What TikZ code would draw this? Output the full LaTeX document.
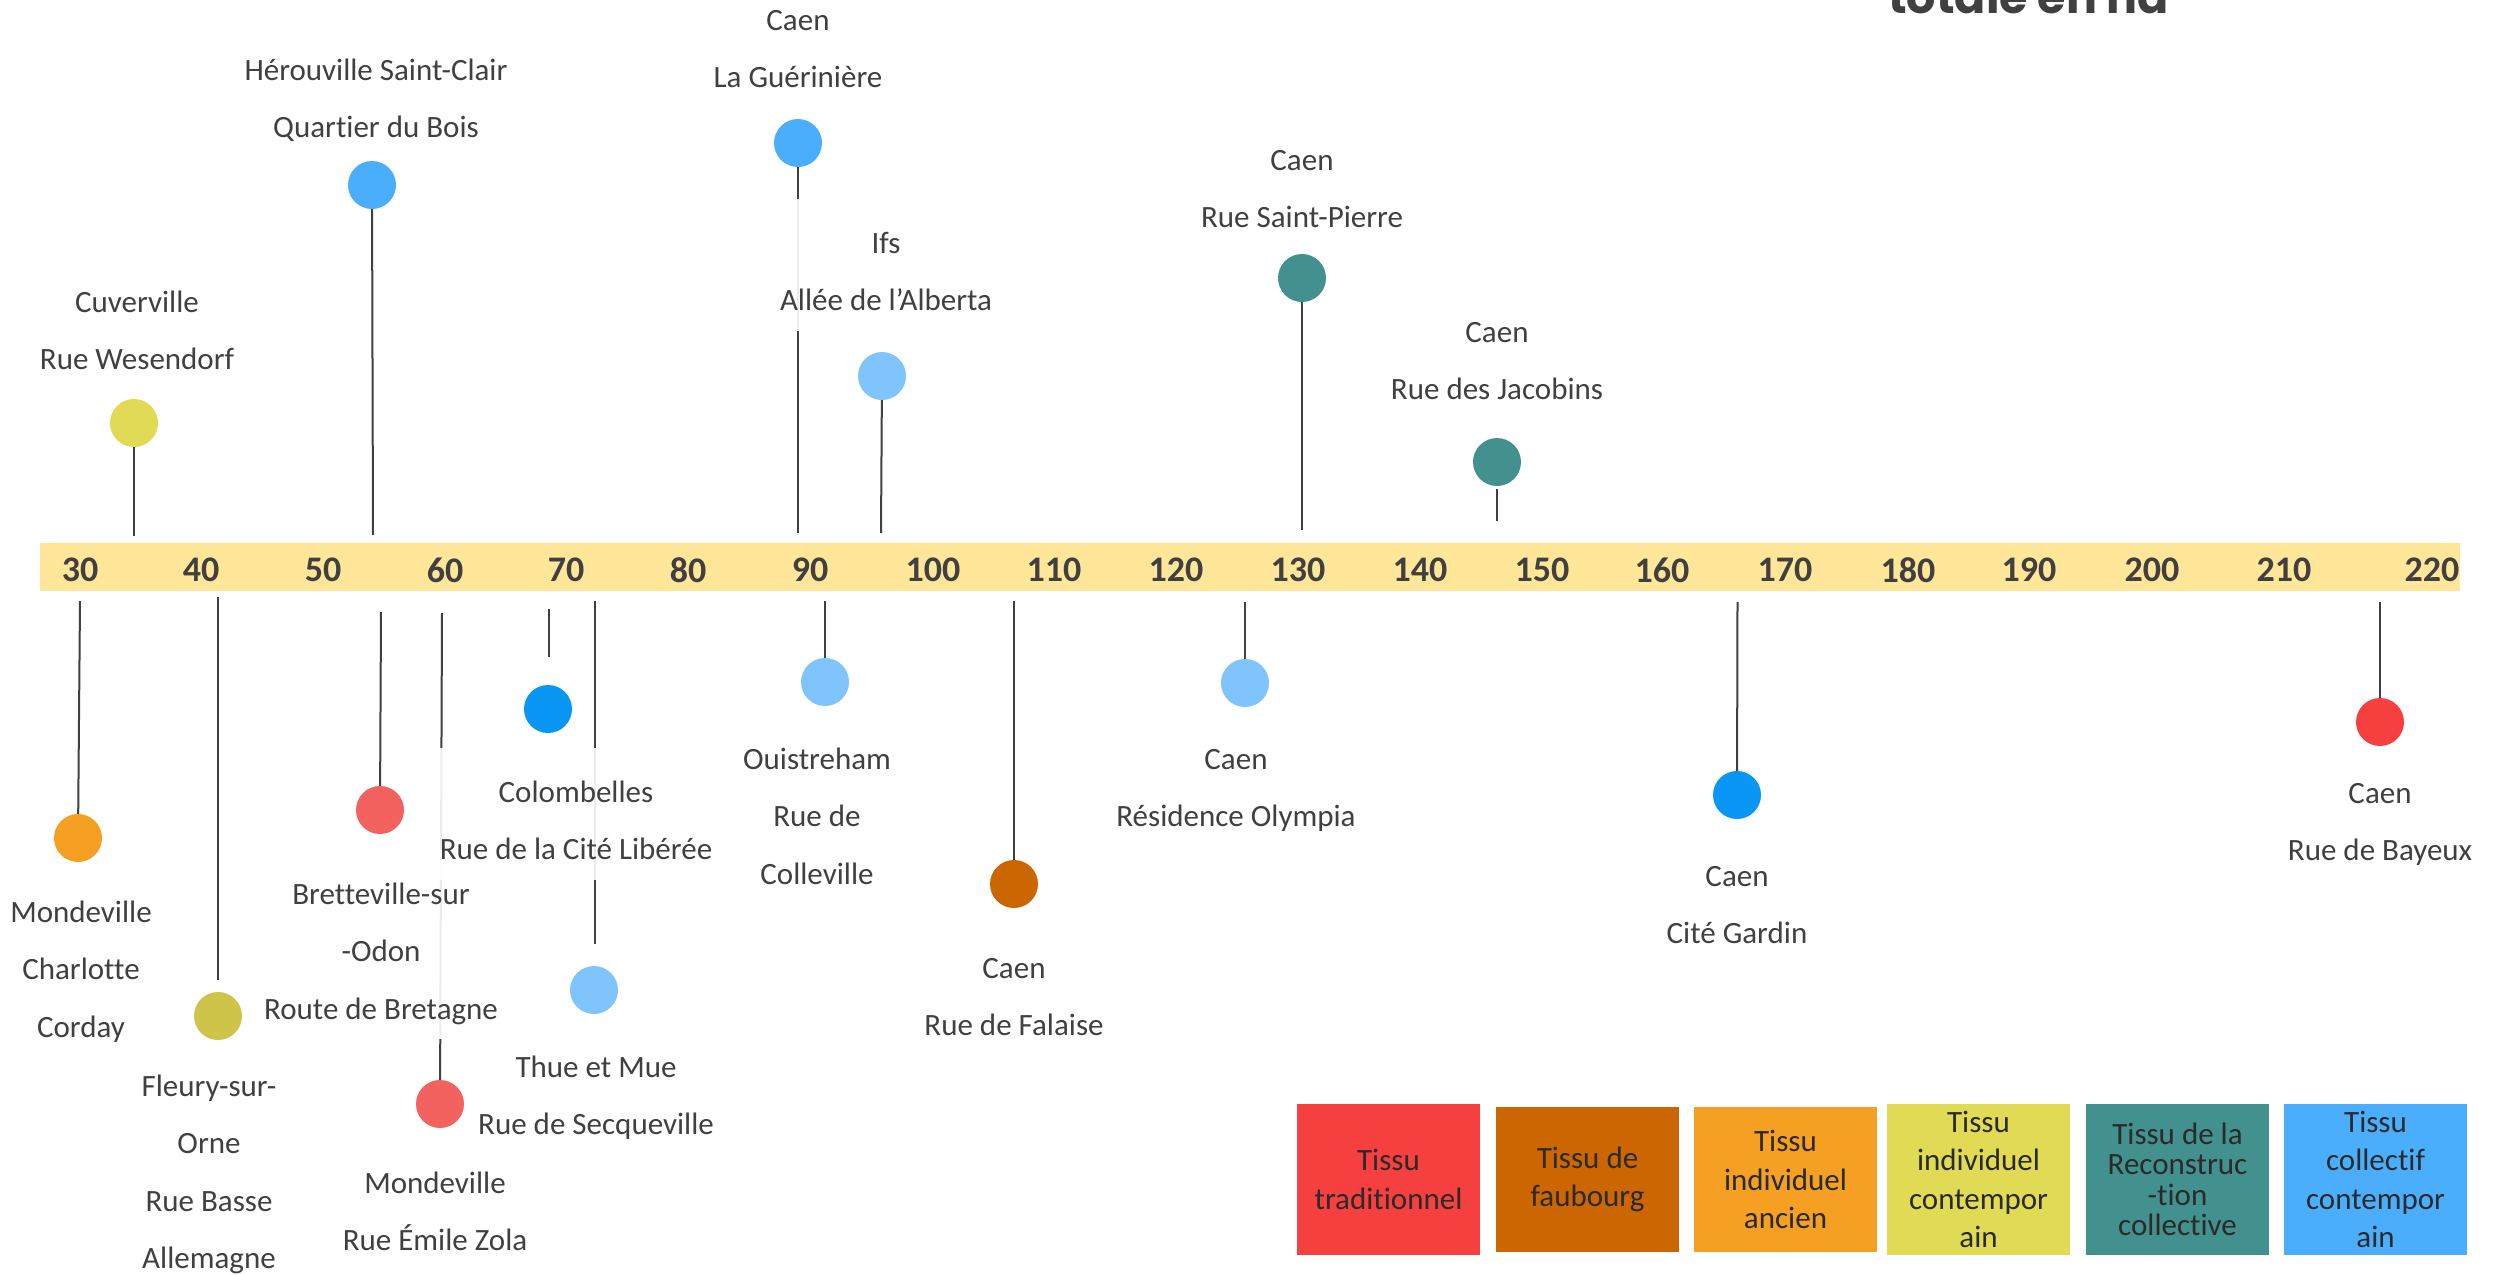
\documentclass[tikz,border=0pt]{standalone}
\usepackage{fontspec}
\setmainfont{Carlito}[Ligatures=NoCommon]
\newfontfamily\titlefont{Poppins}
\definecolor{txt}{HTML}{404040}
\definecolor{legtxt}{HTML}{2A2A2A}
\definecolor{barc}{HTML}{FFE699}
\definecolor{cRed}{HTML}{F63F3F}
\definecolor{cSalmon}{HTML}{F4625F}
\definecolor{cBrown}{HTML}{CC6600}
\definecolor{cOrange}{HTML}{F5A022}
\definecolor{cYellow}{HTML}{E0DA55}
\definecolor{cOlive}{HTML}{CFC44A}
\definecolor{cTeal}{HTML}{43918F}
\definecolor{cBlue}{HTML}{4BAEFD}
\definecolor{cLBlue}{HTML}{7FC4FD}
\definecolor{cBBlue}{HTML}{0A96F5}
\newcommand\mytopstrut{\rule{0pt}{41pt}}
\newcommand\mybotstrut{\rule[-7pt]{0pt}{7pt}}
\tikzset{
  pin/.style={circle, inner sep=0pt, minimum size=48pt, fill=#1},
  stem/.style={draw=txt, line width=2pt},
  lbl/.style={align=center, font=\fontsize{31}{57.5}\selectfont, text=txt,
    fill=white, fill opacity=0.9, text opacity=1, inner xsep=6pt, inner ysep=13pt, anchor=north},
  tick/.style={font=\bfseries\fontsize{36}{40}\selectfont, text=txt, inner sep=0pt},
  leg/.style={minimum width=183pt, minimum height=151pt, inner sep=0pt, align=center,
    font=\fontsize{31}{38.5}\selectfont, text=legtxt, fill=#1},
}
\begin{document}
\begin{tikzpicture}[x=1pt,y=-1pt]
\useasboundingbox (0,0) rectangle (2494,1274);
\clip (0,0) rectangle (2494,1274);
\fill[white] (0,0) rectangle (2494,1274);

% title (clipped at top, as in the reference)
\node[anchor=base west, inner sep=0pt, font=\titlefont\bfseries\fontsize{46}{50}\selectfont, text=txt] (title) at (1888,13) {totale en ha};

% bar
\node[fill=barc, minimum width=2420pt, minimum height=48pt, inner sep=0pt] (bar) at (1250,567) {};

% pins above
\node[pin=cYellow] (p1) at (134,423) {};
\node[pin=cBlue] (p2) at (372,185) {};
\node[pin=cBlue] (p3) at (798,143) {};
\node[pin=cLBlue] (p4) at (882,376) {};
\node[pin=cTeal] (p5) at (1302,278) {};
\node[pin=cTeal] (p6) at (1497,462) {};
% pins below
\node[pin=cOrange] (q1) at (78,838) {};
\node[pin=cOlive] (q2) at (218,1016) {};
\node[pin=cSalmon] (q3) at (380,810) {};
\node[pin=cSalmon] (q4) at (440,1104) {};
\node[pin=cBBlue] (q5) at (548,709) {};
\node[pin=cLBlue] (q6) at (594,990) {};
\node[pin=cLBlue] (q7) at (825,682) {};
\node[pin=cBrown] (q8) at (1014,884) {};
\node[pin=cLBlue] (q9) at (1245,683) {};
\node[pin=cBBlue] (q10) at (1737,795) {};
\node[pin=cRed] (q11) at (2380,722) {};

% stem ends
\coordinate (tp1) at (134,536);
\coordinate (tp2) at (373,535);
\coordinate (tp3) at (798,533);
\coordinate (tp4) at (881,533);
\coordinate (tp5) at (1302,530);
\coordinate (sp6) at (1497,489);
\coordinate (tp6) at (1497,521);
\coordinate (tq1) at (80,601);
\coordinate (tq2) at (218,597);
\coordinate (sq2) at (218,980);
\coordinate (tq3) at (381,612);
\coordinate (tq4) at (442,613);
\coordinate (tq5) at (549,609);
\coordinate (sq5) at (549,657);
\coordinate (tq6) at (595,601);
\coordinate (sq6) at (595,944);
\coordinate (tq7) at (825,601);
\coordinate (tq8) at (1014,601);
\coordinate (tq9) at (1245,602);
\coordinate (tq10) at (1737.5,602);
\coordinate (tq11) at (2380,602);

\draw[stem] (p1) -- (tp1);
\draw[stem] (p2) -- (tp2);
\draw[stem] (p3) -- (tp3);
\draw[stem] (p4) -- (tp4);
\draw[stem] (p5) -- (tp5);
\draw[stem] (sp6) -- (tp6);
\draw[stem] (q1) -- (tq1);
\draw[stem] (tq2) -- (sq2);
\draw[stem] (q3) -- (tq3);
\draw[stem] (q4) -- (tq4);
\draw[stem] (tq5) -- (sq5);
\draw[stem] (tq6) -- (sq6);
\draw[stem] (q7) -- (tq7);
\draw[stem] (q8) -- (tq8);
\draw[stem] (q9) -- (tq9);
\draw[stem] (q10) -- (tq10);
\draw[stem] (q11) -- (tq11);

% labels above
\node[lbl] (lp1) at (137,258) {\mytopstrut Cuverville\\Rue Wesendorf\mybotstrut};
\node[lbl] (lp2) at (376,26) {\mytopstrut Hérouville Saint-Clair\\Quartier du Bois\mybotstrut};
\node[lbl] (lp3) at (798,-24) {\mytopstrut Caen\\La Guérinière\mybotstrut};
\node[lbl] (lp4) at (886,199) {\mytopstrut Ifs\\Allée de l’Alberta\mybotstrut};
\node[lbl] (lp5) at (1302,116) {\mytopstrut Caen\\Rue Saint-Pierre\mybotstrut};
\node[lbl] (lp6) at (1497,288) {\mytopstrut Caen\\Rue des Jacobins\mybotstrut};
% labels below
\node[lbl] (lq1) at (81,868) {\mytopstrut Mondeville\\Charlotte\\Corday\mybotstrut};
\node[lbl] (lq2) at (209,1042) {\mytopstrut Fleury-sur-\\Orne\\Rue Basse\\Allemagne\mybotstrut};
\node[lbl] (lq3) at (381,850) {\mytopstrut Bretteville-sur\\-Odon\\Route de Bretagne\mybotstrut};
\node[lbl] (lq4) at (435,1139) {\mytopstrut Mondeville\\Rue Émile Zola\mybotstrut};
\node[lbl] (lq5) at (576,748) {\mytopstrut Colombelles\\Rue de la Cité Libérée\mybotstrut};
\node[lbl] (lq6) at (596,1023) {\mytopstrut Thue et Mue\\Rue de Secqueville\mybotstrut};
\node[lbl] (lq7) at (817,715) {\mytopstrut Ouistreham\\Rue de\\Colleville\mybotstrut};
\node[lbl] (lq8) at (1014,924) {\mytopstrut Caen\\Rue de Falaise\mybotstrut};
\node[lbl] (lq9) at (1236,715) {\mytopstrut Caen\\Résidence Olympia\mybotstrut};
\node[lbl] (lq10) at (1737,832) {\mytopstrut Caen\\Cité Gardin\mybotstrut};
\node[lbl] (lq11) at (2380,749) {\mytopstrut Caen\\Rue de Bayeux\mybotstrut};

% tick labels
\node[tick] (n30) at (80,570) {30};
\node[tick] (n40) at (201,570) {40};
\node[tick] (n50) at (323,570) {50};
\node[tick] (n60) at (445,570) {60};
\node[tick] (n70) at (566,570) {70};
\node[tick] (n80) at (688,570) {80};
\node[tick] (n90) at (810,570) {90};
\node[tick] (n100) at (933,570) {100};
\node[tick] (n110) at (1054,570) {110};
\node[tick] (n120) at (1176,570) {120};
\node[tick] (n130) at (1298,570) {130};
\node[tick] (n140) at (1420,570) {140};
\node[tick] (n150) at (1542,570) {150};
\node[tick] (n160) at (1662,570) {160};
\node[tick] (n170) at (1785,570) {170};
\node[tick] (n180) at (1908,570) {180};
\node[tick] (n190) at (2029,570) {190};
\node[tick] (n200) at (2152,570) {200};
\node[tick] (n210) at (2284,570) {210};
\node[tick] (n220) at (2432,570) {220};

% legend
\node[leg=cRed] (g1) at (1388.5,1179.5) {Tissu\\traditionnel};
\node[leg=cBrown, minimum height=145pt] (g2) at (1587.5,1179.5) {Tissu de\\faubourg};
\node[leg=cOrange, minimum height=145pt] (g3) at (1785.5,1179.5) {Tissu\\individuel\\ancien};
\node[leg=cYellow] (g4) at (1978.5,1179.5) {Tissu\\individuel\\contempor\\ain};
\node[leg=cTeal, font=\fontsize{31}{30.5}\selectfont] (g5) at (2177.5,1179.5) {Tissu de la\\Reconstruc\\-tion\\collective};
\node[leg=cBlue] (g6) at (2375.5,1179.5) {Tissu\\collectif\\contempor\\ain};
\end{tikzpicture}
\end{document}
